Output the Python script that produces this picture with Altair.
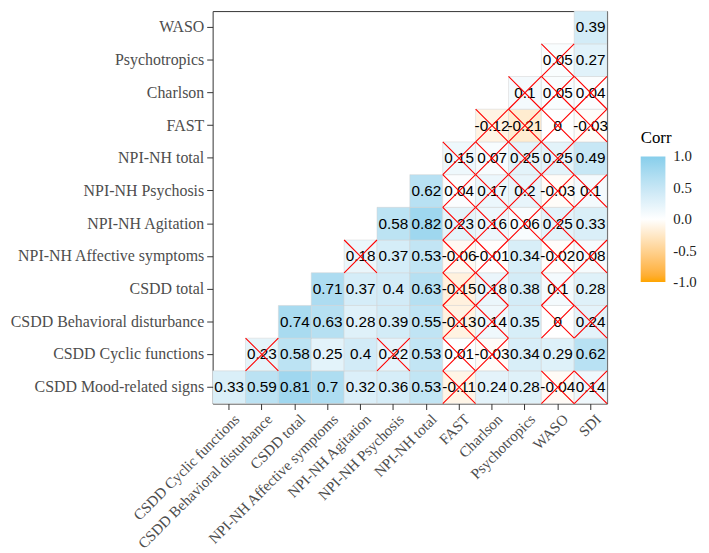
import altair as alt
import pandas as pd

variables = [
    "CSDD Mood-related signs", "CSDD Cyclic functions", "CSDD Behavioral disturbance",
    "CSDD total", "NPI-NH Affective symptoms", "NPI-NH Agitation", "NPI-NH Psychosis",
    "NPI-NH total", "FAST", "Charlson", "Psychotropics", "WASO", "SDI",
]

# lower-triangle correlations: row i pairs variables[i] with variables[i+1:]
corr_mood = [0.33, 0.59, 0.81, 0.7, 0.32, 0.36, 0.53, -0.11, 0.24, 0.28, -0.04, 0.14]
corr_cyclic = [0.23, 0.58, 0.25, 0.4, 0.22, 0.53, 0.01, -0.03, 0.34, 0.29, 0.62]
corr_behav = [0.74, 0.63, 0.28, 0.39, 0.55, -0.13, 0.14, 0.35, 0, 0.24]
corr_csdd_total = [0.71, 0.37, 0.4, 0.63, -0.15, 0.18, 0.38, 0.1, 0.28]
corr_affective = [0.18, 0.37, 0.53, -0.06, -0.01, 0.34, -0.02, 0.08]
corr_agitation = [0.58, 0.82, 0.23, 0.16, 0.06, 0.25, 0.33]
corr_psychosis = [0.62, 0.04, 0.17, 0.2, -0.03, 0.1]
corr_npi_total = [0.15, 0.07, 0.25, 0.25, 0.49]
corr_fast = [-0.12, -0.21, 0, -0.03]
corr_charlson = [0.1, 0.05, 0.04]
corr_psychotropics = [0.05, 0.27]
corr_waso = [0.39]

# 1 = not significant (crossed out)
insig_mood = [0, 0, 0, 0, 0, 0, 0, 1, 0, 0, 1, 1]
insig_cyclic = [1, 0, 0, 0, 1, 0, 1, 1, 0, 0, 0]
insig_behav = [0, 0, 0, 0, 0, 1, 1, 0, 1, 1]
insig_csdd_total = [0, 0, 0, 0, 1, 1, 0, 1, 0]
insig_affective = [1, 0, 0, 1, 1, 0, 1, 1]
insig_agitation = [0, 0, 1, 1, 1, 1, 0]
insig_psychosis = [0, 1, 1, 1, 1, 1]
insig_npi_total = [1, 1, 1, 1, 0]
insig_fast = [1, 1, 1, 1]
insig_charlson = [1, 1, 1]
insig_psychotropics = [1, 0]
insig_waso = [0]

legend_values = [-0.9999, -0.5, 0, 0.5, 0.9999]

corr_rows = [corr_mood, corr_cyclic, corr_behav, corr_csdd_total, corr_affective,
             corr_agitation, corr_psychosis, corr_npi_total, corr_fast, corr_charlson,
             corr_psychotropics, corr_waso]
insig_rows = [insig_mood, insig_cyclic, insig_behav, insig_csdd_total, insig_affective,
              insig_agitation, insig_psychosis, insig_npi_total, insig_fast, insig_charlson,
              insig_psychotropics, insig_waso]

records = []
for i, (vals, flags) in enumerate(zip(corr_rows, insig_rows)):
    for k, (v, f) in enumerate(zip(vals, flags)):
        records.append({"x": variables[i + 1 + k], "y": variables[i], "r": v,
                        "lab": f"{v:g}", "insig": f})
df = pd.DataFrame(records)

x_order = variables[1:]
y_order = list(reversed(variables[:-1]))

base = alt.Chart(df).encode(
    x=alt.X("x:N", sort=x_order, title=None,
            scale=alt.Scale(paddingInner=0, paddingOuter=0),
            axis=alt.Axis(labelAngle=-45, labelAlign="right", labelBaseline="top",
                          labelPadding=2, labelOffset=3, labelLimit=0,
                          labelFontSize=15.2)),
    y=alt.Y("y:N", sort=y_order, title=None,
            scale=alt.Scale(paddingInner=0, paddingOuter=0),
            axis=alt.Axis(labelPadding=3, labelLimit=0)),
)

tiles = base.mark_rect(stroke="#d2d2d2", strokeWidth=0.5).encode(
    color=alt.Color(
        "r:Q",
        scale=alt.Scale(domain=[-1, 0, 1], range=["#FFA500", "#FFFFFF", "#87CEEB"],
                        interpolate="lab"),
        legend=alt.Legend(
            title="Corr", orient="none", legendX=433, legendY=120,
            direction="vertical", gradientLength=127, gradientThickness=25,
            gradientStrokeWidth=0,
            titleFont="Liberation Serif", titleFontSize=17, titleFontWeight="normal",
            titleColor="black", titlePadding=10,
            labelFont="Liberation Serif", labelFontSize=15, labelColor="#222222",
            labelOffset=8, labelOverlap=False,
            values=legend_values,
            labelExpr="(datum.value < 0 ? '-' : '') + format(abs(datum.value), '.1f')",
        ),
    )
)

text = base.mark_text(font="Liberation Sans", fontSize=15.5, color="black").encode(
    text="lab:N"
)

cross = base.transform_filter("datum.insig == 1").mark_point(
    shape="M-1,-1L1,1M-1,1L1,-1", size=1100, stroke="#FF0000", fill="transparent",
    strokeWidth=1.1, filled=False, opacity=1,
)

chart = alt.layer(tiles, text, cross).properties(
    width=399, height=397,
    autosize=alt.AutoSizeParams(type="none"),
    padding={"left": 207, "top": 0, "right": 95, "bottom": 146},
).configure_view(
    stroke="#333333", strokeWidth=1
).configure_axis(
    domain=False, grid=False, tickColor="#333333", tickSize=6,
    labelFont="Liberation Serif", labelFontSize=16.1, labelColor="#4D4D4D",
)

chart.save("out.html", embed_options={"renderer": "svg", "actions": False})
